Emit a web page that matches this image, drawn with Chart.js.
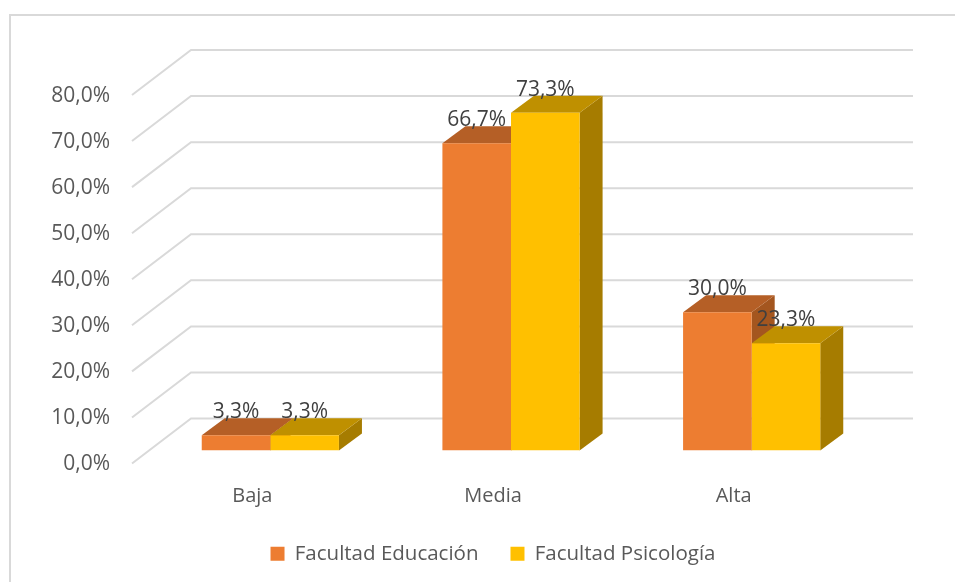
<!DOCTYPE html>
<html>
<head>
<meta charset="utf-8">
<title>Facultad Educación / Psicología</title>
<script src="https://cdn.jsdelivr.net/npm/chart.js@4/dist/chart.umd.min.js"></script>
<style>
    html, body { margin: 0; padding: 0; background: #fff; overflow: hidden; }
    canvas { display: block; }
</style>
</head>
<body>
<canvas id="chart" width="955" height="582"></canvas>
<script>
// Chart data
const categories = ['Baja', 'Media', 'Alta'];
const educacion = [3.3, 66.7, 30.0];
const psicologia = [3.3, 73.3, 23.3];
const seriesNames = ['Facultad Educación', 'Facultad Psicología'];

const FONT = '"Open Sans", sans-serif';
const GRID = '#d9d9d9';

// Depth of the fake 3D box
const wallDx = 59, wallDy = -45;
const barDx = 23, barDy = -17;
const barShiftX = 18, barShiftY = -13;

const faces = [
    { top: '#b55f26', side: '#a4561f' },
    { top: '#bf9000', side: '#a67c00' }
];

function pct(v) {
    return v.toFixed(1).replace('.', ',') + '%';
}

function poly(ctx, color, pts) {
    ctx.fillStyle = color;
    ctx.beginPath();
    pts.forEach((p, i) => i ? ctx.lineTo(p[0], p[1]) : ctx.moveTo(p[0], p[1]));
    ctx.closePath();
    ctx.fill();
}

// Frame, back wall and side wall lines
const wallsPlugin = {
    id: 'walls',
    beforeDraw(chart) {
        const ctx = chart.ctx;
        const y = chart.scales.y;
        const area = chart.chartArea;
        ctx.save();
        ctx.strokeStyle = GRID;
        ctx.lineWidth = 2;
        ctx.beginPath();
        ctx.moveTo(10, 582);
        ctx.lineTo(10, 15);
        ctx.lineTo(955, 15);
        ctx.stroke();
        y.ticks.forEach(t => {
            const py = y.getPixelForValue(t.value);
            ctx.beginPath();
            ctx.moveTo(area.left, py);
            ctx.lineTo(area.left + wallDx, py + wallDy);
            ctx.lineTo(area.right + wallDx, py + wallDy);
            ctx.stroke();
        });
        ctx.restore();
    }
};

// Top and side faces go under the library's bars, labels go over them
const boxPlugin = {
    id: 'box',
    beforeDatasetsDraw(chart) {
        const ctx = chart.ctx;
        ctx.save();
        ctx.translate(barShiftX, barShiftY);
        chart.data.datasets.forEach((ds, i) => {
            chart.getDatasetMeta(i).data.forEach(bar => {
                const l = bar.x - bar.width / 2, r = bar.x + bar.width / 2;
                poly(ctx, faces[i].side, [[r, bar.y], [r + barDx, bar.y + barDy], [r + barDx, bar.base + barDy], [r, bar.base]]);
                poly(ctx, faces[i].top, [[l, bar.y], [l + barDx, bar.y + barDy], [r + barDx, bar.y + barDy], [r, bar.y]]);
            });
        });
    },
    afterDatasetsDraw(chart) {
        const ctx = chart.ctx;
        ctx.fillStyle = '#404040';
        ctx.font = '21px ' + FONT;
        ctx.textAlign = 'center';
        ctx.textBaseline = 'middle';
        chart.data.datasets.forEach((ds, i) => {
            chart.getDatasetMeta(i).data.forEach((bar, j) => {
                ctx.fillText(pct(ds.data[j]), bar.x, bar.y - 23);
            });
        });
        ctx.restore();
    }
};

new Chart(document.getElementById('chart'), {
    type: 'bar',
    data: {
        labels: categories,
        datasets: [
            { label: seriesNames[0], data: educacion, backgroundColor: '#ed7d31' },
            { label: seriesNames[1], data: psicologia, backgroundColor: '#ffc000' }
        ]
    },
    options: {
        responsive: false,
        animation: false,
        layout: { padding: { top: 95, right: 101, bottom: 8, left: 0 } },
        datasets: { bar: { categoryPercentage: 0.57, barPercentage: 1 } },
        scales: {
            x: {
                grid: { display: false, drawTicks: false },
                border: { display: false },
                ticks: { padding: 21, color: '#595959', font: { family: FONT, size: 20 } },
                afterFit(scale) { scale.height = 48; }
            },
            y: {
                min: 0,
                max: 80,
                grid: { display: false, drawTicks: false },
                border: { display: false },
                ticks: {
                    stepSize: 10,
                    padding: 22,
                    labelOffset: 1,
                    color: '#595959',
                    font: { family: FONT, size: 21 },
                    callback: v => pct(v)
                },
                afterFit(scale) { scale.width = 132; }
            }
        },
        plugins: {
            title: { display: false },
            tooltip: { enabled: false },
            legend: {
                position: 'bottom',
                fullSize: false,
                labels: {
                    boxWidth: 14,
                    boxHeight: 14,
                    padding: 32,
                    color: '#595959',
                    font: { family: FONT, size: 20.5 }
                }
            }
        }
    },
    plugins: [wallsPlugin, boxPlugin]
});
</script>
</body>
</html>
